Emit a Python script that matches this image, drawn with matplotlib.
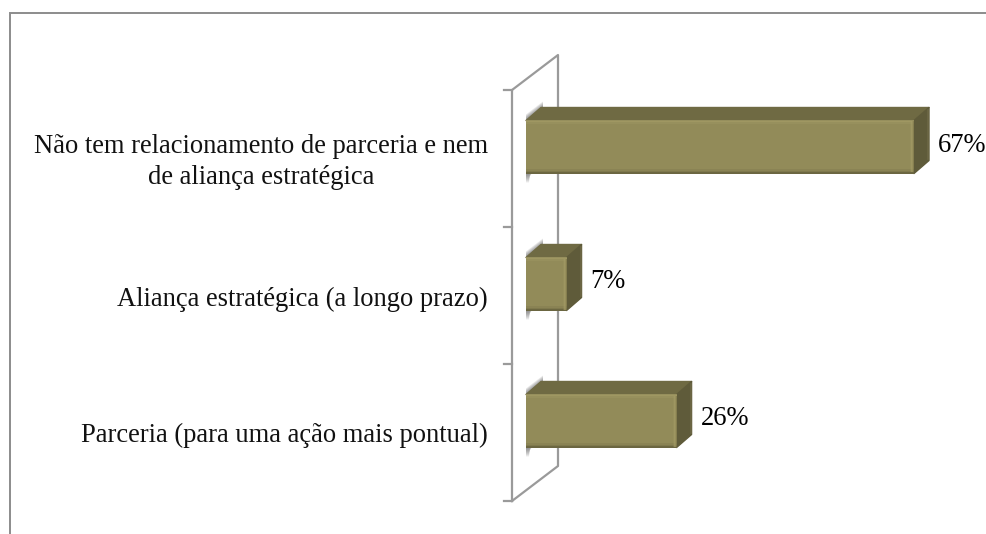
import matplotlib
matplotlib.use("Agg")
import matplotlib.pyplot as plt
from matplotlib.patches import Polygon

W, H = 987, 534
categories = ["Parceria (para uma ação mais pontual)",
              "Aliança estratégica (a longo prazo)",
              "Não tem relacionamento de parceria e nem\nde aliança estratégica"]
values = [26, 7, 67]
labels = ["26%", "7%", "67%"]

plt.rcParams['font.family'] = ['Liberation Serif', 'DejaVu Serif']
fig = plt.figure(figsize=(W/100, H/100), dpi=100)
ax = fig.add_axes([0, 0, 1, 1])
ax.axis('off')

# pixel-calibrated scale
PX_PER_PCT = 388/67
PX_PER_CAT = 137
X0, Y0 = 526, 421
ax.set_xlim(-X0/PX_PER_PCT, (W-X0)/PX_PER_PCT)
ax.set_ylim(-(H-Y0)/PX_PER_CAT, Y0/PX_PER_CAT)
sx = lambda px: px/PX_PER_PCT
sy = lambda px: px/PX_PER_CAT
FS = 19.1

# figure frame
fig.add_artist(plt.Line2D([9.5/W, 9.5/W, 1], [0, 1-12.8/H, 1-12.8/H],
                          color='#8c8c8c', lw=1.4, solid_joinstyle='miter'))

# wall
wall_l = -sx(14)
wall_d = (sx(46), sy(35))
y_lo, y_hi = -0.584, 2.416
wall_c = '#9a9a9a'
ax.plot([wall_l, wall_l, wall_l+wall_d[0], wall_l+wall_d[0], wall_l],
        [y_lo, y_hi, y_hi+wall_d[1], y_lo+wall_d[1], y_lo], color=wall_c, lw=1.6, zorder=1)
for i in range(4):
    ax.plot([wall_l-sx(8), wall_l], [y_lo+i]*2, color=wall_c, lw=1.6, zorder=1)

DX, DY = sx(15), sy(13)
DX_BACK = sx(17)
hh = 26.5/PX_PER_CAT
FRONT, TOP, SIDE = '#928b59', '#6f6a43', '#5f5b3a'
label_dx = [24, 24, 24]
label_base = [-4, -4, -5]   # baseline offset in px below category centre

for i, (v, lab) in enumerate(zip(values, labels)):
    # soft shadow on the wall
    for t in range(1, 7):
        ax.add_patch(Polygon([(0, i+hh), (DX_BACK, i+hh+DY), (DX_BACK, i+hh+DY+sy(t)), (0, i+hh+sy(t))],
                             closed=True, fc='#4a4a4a', ec='none', alpha=0.13, zorder=2))
    for t in range(1, 10):
        ax.add_patch(Polygon([(0, i-hh), (sx(7-t*0.35), i-hh), (sx(3), i-hh-sy(t)), (0, i-hh-sy(t))],
                             closed=True, fc='#4a4a4a', ec='none', alpha=0.09, zorder=2))
    # top and side faces
    ax.add_patch(Polygon([(0, i+hh), (v, i+hh), (v+DX, i+hh+DY), (DX, i+hh+DY)],
                         closed=True, fc=TOP, ec=TOP, lw=1.0, joinstyle='round', zorder=3))
    ax.add_patch(Polygon([(v, i+hh), (v+DX, i+hh+DY), (v+DX, i-hh+DY), (v, i-hh)],
                         closed=True, fc=SIDE, ec=SIDE, lw=1.0, joinstyle='round', zorder=3))
    ax.plot([v+DX-sx(.5)]*2, [i-hh+DY+sy(2), i+hh+DY-sy(2)], color='#6d6846', lw=1.2, zorder=3)
    # front face with soft bevels
    ax.barh(i, v, height=2*hh, color=FRONT, lw=0, zorder=4)
    for px, col, a in [(0.7, '#a49c66', 0.9), (2.0, '#a49c66', 0.4)]:
        ax.plot([0, v], [i+hh-sy(px)]*2, color=col, lw=1.2, alpha=a, zorder=5, solid_capstyle='butt')
    for px, col, a in [(0.7, '#5f5b3a', 0.9), (2.0, '#6e6942', 0.6), (3.2, '#6e6942', 0.25)]:
        ax.plot([0, v], [i-hh+sy(px)]*2, color=col, lw=1.2, alpha=a, zorder=5, solid_capstyle='butt')
    for px, col, a in [(0.6, '#7c7649', 0.7), (1.8, '#a49c66', 0.7), (3.0, '#a49c66', 0.3)]:
        ax.plot([v-sx(px)]*2, [i-hh+sy(1), i+hh-sy(1)], color=col, lw=1.2, alpha=a, zorder=5, solid_capstyle='butt')
    ax.text(v+sx(label_dx[i]), i+sy(label_base[i]), lab, fontsize=FS, color='black',
            ha='left', va='baseline', clip_on=False)

# category labels
l1, l2 = categories[2].split("\n")
ax.text(sx(487.5-X0), 0-sy(21), categories[0], fontsize=FS, ha='right', va='baseline', color='#111111')
ax.text(sx(487.5-X0), 1-sy(22), categories[1], fontsize=FS, ha='right', va='baseline', color='#111111')
ax.text(sx(261-X0), 2-sy(6), l1, fontsize=FS, ha='center', va='baseline', color='#111111')
ax.text(sx(261-X0), 2-sy(37), l2, fontsize=FS, ha='center', va='baseline', color='#111111')

fig.savefig("out.png", dpi=100)
